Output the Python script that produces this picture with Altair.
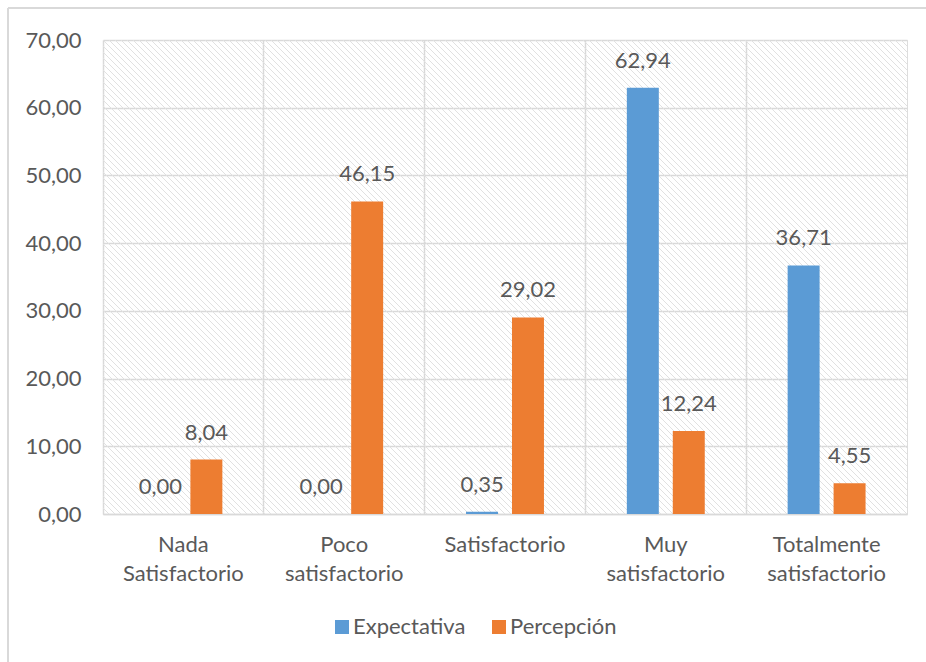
import altair as alt
import pandas as pd

# Survey results (%) per satisfaction level
categories = [
    "Nada Satisfactorio",
    "Poco satisfactorio",
    "Satisfactorio",
    "Muy satisfactorio",
    "Totalmente satisfactorio",
]
series = ["Expectativa", "Percepción"]
expectativa = [0.00, 0.00, 0.35, 62.94, 36.71]
percepcion = [8.04, 46.15, 29.02, 12.24, 4.55]
colors = ["#5B9BD5", "#ED7D31"]

rows = []
for i, cat in enumerate(categories):
    rows.append({"cat": cat, "serie": series[0], "valor": expectativa[i]})
    rows.append({"cat": cat, "serie": series[1], "valor": percepcion[i]})
df = pd.DataFrame(rows)

W, H = 804, 474
FONT = "Lato"
TXT = "#595959"
GRID = "#d9d9d9"

x_enc = alt.X(
    "cat:N",
    sort=categories,
    scale=alt.Scale(paddingInner=0, paddingOuter=0),
    axis=alt.Axis(
        title=None,
        labelAngle=0,
        labelExpr="split(datum.label, ' ')",
        labelLineHeight=29,
        labelPadding=20,
        labelFontSize=22,
        labelColor=TXT,
        labelFont=FONT,
        ticks=False,
        domainColor=GRID,
        domainWidth=1.5,
        grid=True,
        gridColor=GRID,
        gridWidth=1.5,
        bandPosition=0,
        labelBaseline="top",
    ),
)
y_enc = alt.Y(
    "valor:Q",
    scale=alt.Scale(domain=[0, 70], nice=False),
    axis=alt.Axis(
        title=None,
        values=[0, 10, 20, 30, 40, 50, 60, 70],
        labelExpr="replace(format(datum.value, '.2f'), '.', ',')",
        labelFontSize=22,
        labelColor=TXT,
        labelFont=FONT,
        labelPadding=22,
        ticks=False,
        domain=False,
        gridColor=GRID,
        gridWidth=1.5,
    ),
)
xoff = alt.XOffset(
    "serie:N",
    sort=series,
    scale=alt.Scale(paddingInner=0.304, paddingOuter=0.902),
)

# Diagonal hatch texture for the plot background
hatch = (
    alt.Chart(alt.sequence(0, int((W + H) / 6) + 2, as_="k"))
    .transform_calculate(a=f"datum.k * 6 - {H}", b=f"datum.k * 6", top="0", bot=str(H))
    .mark_rule(clip=True, stroke="#e1e1e1", strokeWidth=1)
    .encode(
        x=alt.X("a:Q", scale=None, axis=None),
        x2="b:Q",
        y=alt.Y("top:Q", scale=None, axis=None),
        y2="bot:Q",
    )
)

base = alt.Chart(df).encode(x=x_enc, xOffset=xoff)

bars = base.mark_bar().encode(
    y=y_enc,
    color=alt.Color(
        "serie:N",
        sort=series,
        scale=alt.Scale(domain=series, range=colors),
        legend=alt.Legend(
            title=None,
            orient="none",
            legendX=228,
            legendY=576,
            direction="horizontal",
            symbolType="square",
            symbolSize=196,
            symbolStrokeWidth=0,
            labelFontSize=22,
            labelFont=FONT,
            labelColor=TXT,
            labelOffset=0,
            columnPadding=22,
            padding=0,
        ),
    ),
)

labels = (
    base.mark_text(baseline="alphabetic", dy=-20, fontSize=22, font=FONT, color=TXT)
    .transform_calculate(lbl="replace(format(datum.valor, '.2f'), '.', ',')")
    .encode(y=alt.Y("valor:Q"), text="lbl:N")
)

# Outer frame (left and top edges)
frame_left = alt.Chart(df).mark_rule(color=GRID, strokeWidth=1.5).encode(
    x=alt.value(-95), y=alt.value(-32), y2=alt.value(640)
)
frame_top = alt.Chart(df).mark_rule(color=GRID, strokeWidth=1.5).encode(
    x=alt.value(-95), x2=alt.value(840), y=alt.value(-32)
)

chart = (
    alt.layer(hatch, bars, labels, frame_left, frame_top)
    .properties(
        width=W,
        height=H,
        autosize=alt.AutoSizeParams(type="none"),
        padding={"left": 103, "top": 40, "right": 19, "bottom": 148},
    )
    .configure_view(stroke=GRID, strokeWidth=1.5)
    .configure(background="white")
)

chart.save("out.html", embed_options={"renderer": "svg", "actions": False})
